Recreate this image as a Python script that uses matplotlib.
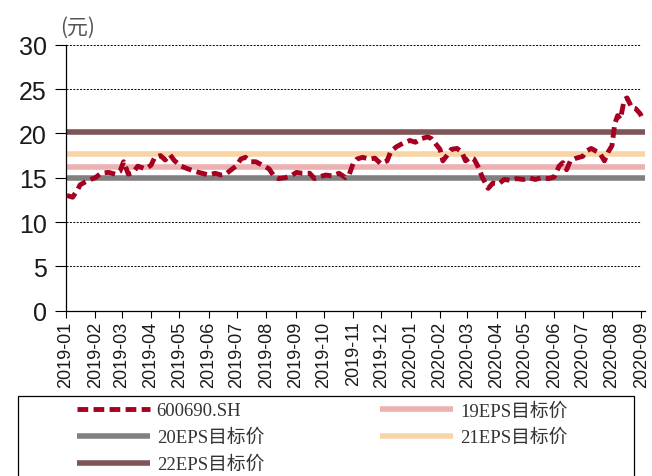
import pandas as pd
import matplotlib.pyplot as plt
import matplotlib.dates as mdates
from matplotlib.patches import Rectangle

dates = ["2019-01-02", "2019-01-08", "2019-01-13", "2019-01-16", "2019-01-21", "2019-01-27",
         "2019-02-01", "2019-02-07", "2019-02-15", "2019-02-22", "2019-02-27", "2019-03-03",
         "2019-03-08", "2019-03-13", "2019-03-18", "2019-03-26", "2019-04-01", "2019-04-05",
         "2019-04-11", "2019-04-16", "2019-04-21", "2019-04-26", "2019-05-03", "2019-05-10",
         "2019-05-18", "2019-05-25", "2019-06-01", "2019-06-08", "2019-06-14", "2019-06-19",
         "2019-06-25", "2019-07-01", "2019-07-05", "2019-07-10", "2019-07-16", "2019-07-21",
         "2019-07-28", "2019-08-04", "2019-08-09", "2019-08-14", "2019-08-21", "2019-08-27",
         "2019-09-02", "2019-09-08", "2019-09-16", "2019-09-21", "2019-09-26", "2019-10-03",
         "2019-10-10", "2019-10-17", "2019-10-24", "2019-10-28", "2019-11-01", "2019-11-05",
         "2019-11-11", "2019-11-18", "2019-11-24", "2019-11-30", "2019-12-07", "2019-12-11",
         "2019-12-17", "2019-12-24", "2019-12-31", "2020-01-06", "2020-01-12", "2020-01-19",
         "2020-01-23", "2020-02-01", "2020-02-04", "2020-02-09", "2020-02-13", "2020-02-19",
         "2020-02-24", "2020-02-28", "2020-03-04", "2020-03-08", "2020-03-12", "2020-03-17",
         "2020-03-23", "2020-03-28", "2020-04-03", "2020-04-09", "2020-04-16", "2020-04-22",
         "2020-04-29", "2020-05-05", "2020-05-12", "2020-05-18", "2020-05-26", "2020-06-01",
         "2020-06-06", "2020-06-10", "2020-06-14", "2020-06-18", "2020-06-24", "2020-07-01",
         "2020-07-05", "2020-07-10", "2020-07-15", "2020-07-19", "2020-07-24", "2020-07-28",
         "2020-08-01", "2020-08-04", "2020-08-07", "2020-08-10", "2020-08-14", "2020-08-17",
         "2020-08-22", "2020-08-26", "2020-08-31", "2020-09-03"]
price = [13.0, 12.8, 13.6, 14.2, 14.5, 14.8,
         15.0, 15.5, 15.6, 15.4, 15.7, 16.8,
         15.4, 15.6, 16.3, 16.0, 16.4, 17.3,
         17.5, 17.0, 17.6, 16.9, 16.3, 16.0,
         15.7, 15.5, 15.3, 15.5, 15.3, 15.4,
         15.9, 16.4, 17.1, 17.3, 16.8, 16.8,
         16.4, 16.0, 15.2, 14.9, 15.0, 15.2,
         15.6, 15.5, 15.5, 14.9, 15.1, 15.3,
         15.2, 15.5, 15.0, 15.4, 16.6, 17.1,
         17.3, 17.1, 17.2, 16.6, 16.9, 18.0,
         18.5, 18.9, 19.2, 19.0, 19.4, 19.6,
         19.4, 18.2, 16.9, 17.6, 18.2, 18.3,
         17.9, 16.9, 17.3, 17.1, 16.3, 15.0,
         13.8, 14.4, 14.3, 14.8, 14.7, 14.9,
         14.8, 15.0, 14.8, 15.0, 14.9, 15.1,
         16.3, 16.7, 15.9, 16.9, 17.2, 17.4,
         18.0, 18.3, 18.0, 17.8, 16.9, 17.9,
         18.6, 21.1, 22.0, 21.6, 23.8, 24.0,
         22.9, 22.8, 22.2, 21.5]

target_names = ["19EPS目标价", "20EPS目标价", "21EPS目标价", "22EPS目标价"]
target_values = [16.25, 14.93, 17.67, 20.12]
target_colors = ["#EDB1B1", "#808080", "#F9D5A5", "#7E5456"]

x = pd.to_datetime(dates)

W, H = 652, 477
fig = plt.figure(figsize=(6.52, 4.77), dpi=100)
ax = fig.add_axes([66 / W, 1 - 311.7 / H, 579 / W, (311.7 - 45.7) / H])

lines = {}
for name, val, col in zip(target_names, target_values, target_colors):
    lines[name] = ax.axhline(val, color=col, lw=4, solid_capstyle="butt", zorder=2)

p, = ax.plot(x, price, color="#A50021", lw=3.5, dashes=(2.2, 1.1), zorder=3)

ax.set_xlim(pd.Timestamp("2019-01-01"), pd.Timestamp("2020-09-05"))
ax.set_ylim(0, 30)
ax.set_yticks(range(0, 31, 5))
for v in range(5, 31, 5):
    ax.plot([pd.Timestamp("2019-01-01"), pd.Timestamp("2020-09-01")], [v, v],
            color="black", lw=0.7, dashes=(2, 1.5), zorder=1)

ax.xaxis.set_major_locator(mdates.MonthLocator())
ax.xaxis.set_major_formatter(mdates.DateFormatter("%Y-%m"))
for lab in ax.get_xticklabels():
    lab.set_rotation(90)
ax.tick_params(axis="x", labelsize=13, length=5, width=0.8, pad=2)
ax.tick_params(axis="y", labelsize=18, length=8, width=0.8, pad=6)
for lab in ax.get_xticklabels() + ax.get_yticklabels():
    lab.set_fontfamily("Liberation Sans")
    lab.set_color("#1a1a1a")

ax.spines["top"].set_visible(False)
ax.spines["right"].set_visible(False)
ax.spines["left"].set_linewidth(0.9)
ax.spines["bottom"].set_linewidth(0.9)

fig.text(60 / W, 1 - 28 / H, "(元)", fontsize=15, color="#555555",
         family=["Noto Sans CJK SC", "DejaVu Sans"], va="center", ha="left")

# legend frame, cut off by the bottom edge like in the source
fig.patches.append(Rectangle((18 / W, -0.05), 616 / W, 1 - 397 / H + 0.05,
                             transform=fig.transFigure, fill=False,
                             edgecolor="black", lw=0.9))

handles = [p, lines["20EPS目标价"], lines["22EPS目标价"], lines["19EPS目标价"], lines["21EPS目标价"]]
labels = ["600690.SH", "20EPS目标价", "22EPS目标价", "19EPS目标价", "21EPS目标价"]
leg = fig.legend(handles, labels, loc="upper left", ncol=2,
                 bbox_to_anchor=(77 / W, 1 - 403 / H),
                 frameon=False, handlelength=3.9, handletextpad=0.35,
                 labelspacing=0.5, borderpad=0, borderaxespad=0, columnspacing=6.2,
                 prop={"family": ["Liberation Serif", "Noto Sans CJK SC"], "size": 13.5})
for t in leg.get_texts():
    t.set_color("#333333")

fig.savefig("out.png", dpi=100)
